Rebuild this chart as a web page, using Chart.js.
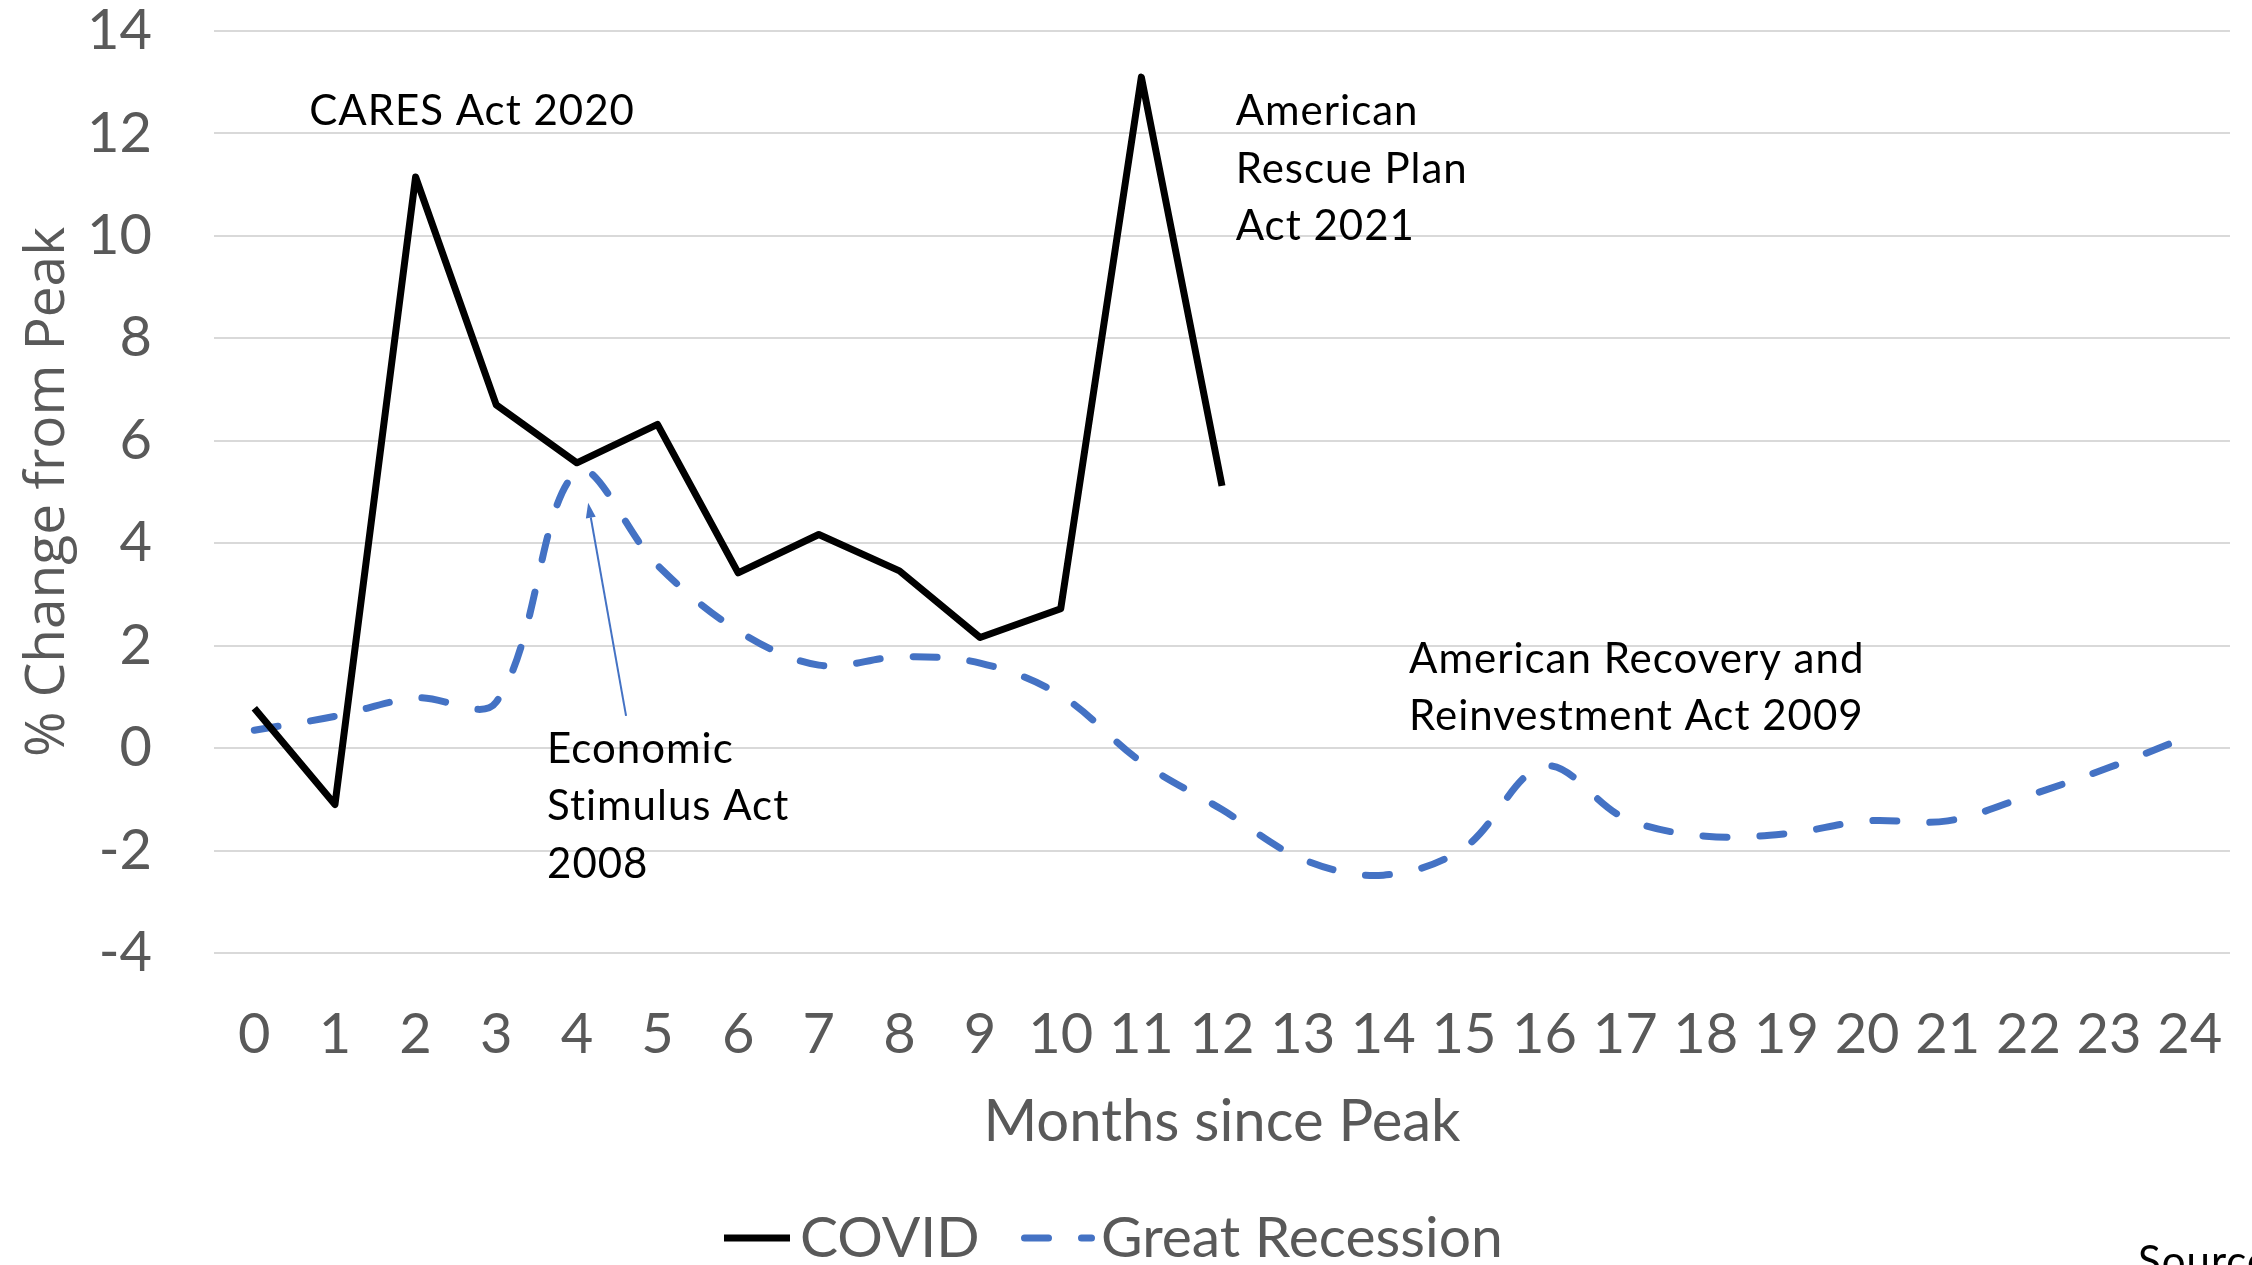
<!DOCTYPE html>
<html>
<head>
<meta charset="utf-8">
<title>Months since Peak</title>
<script src="https://cdn.jsdelivr.net/npm/chart.js@4.4.1/dist/chart.umd.min.js"></script>
<style>
  html, body { margin: 0; padding: 0; background: #fff; }
  canvas { display: block; }
</style>
</head>
<body>
<canvas id="chart" width="2252" height="1265"></canvas>
<script>
// months since the pre-recession peak
const months = ["0", "1", "2", "3", "4", "5", "6", "7", "8", "9", "10", "11", "12",
  "13", "14", "15", "16", "17", "18", "19", "20", "21", "22", "23", "24"];
// % change from peak
const covid = [0.78, -1.1, 11.15, 6.7, 5.57, 6.32, 3.42, 4.17, 3.46, 2.16, 2.72, 13.1, 5.12];
const greatRecession = [0.35, 0.62, 0.98, 0.9, 5.4, 3.57, 2.29, 1.62, 1.78, 1.66, 1.03, -0.27,
  -1.2, -2.17, -2.48, -1.95, -0.35, -1.37, -1.72, -1.67, -1.42, -1.42, -0.93, -0.38, 0.24];
const yMin = -4, yMax = 14, yStep = 2;

const GREY = "#595959";
const BLUE = "#4472C4";
const DASH = [24, 33];

// callouts, placed in axis units (category index, value)
const notes = [
  { text: ["CARES Act 2020"], at: [0.68, 12.16] },
  { text: ["American", "Rescue Plan", "Act 2021"], at: [12.17, 12.16] },
  { text: ["Economic", "Stimulus Act", "2008"], at: [3.63, -0.29] },
  { text: ["American Recovery and", "Reinvestment Act 2009"], at: [14.32, 1.47] }
];
const arrow = { from: [4.61, 0.63], to: [4.14, 4.79] };

const calloutPlugin = {
  id: "callouts",
  afterDatasetsDraw(chart) {
    const { ctx, scales: { x, y } } = chart;
    ctx.save();
    ctx.font = "42px Lato";
    ctx.letterSpacing = "1px";
    ctx.fillStyle = "#000";
    ctx.textAlign = "left";
    ctx.textBaseline = "alphabetic";
    notes.forEach((n) => {
      const px = x.getPixelForValue(n.at[0]);
      const py = y.getPixelForValue(n.at[1]);
      n.text.forEach((t, k) => ctx.fillText(t, px, py + k * 57.5));
    });

    // thin arrow towards the 2008 stimulus bump
    const x0 = x.getPixelForValue(arrow.from[0]), y0 = y.getPixelForValue(arrow.from[1]);
    const x1 = x.getPixelForValue(arrow.to[0]), y1 = y.getPixelForValue(arrow.to[1]);
    const ang = Math.atan2(y1 - y0, x1 - x0);
    const head = 15, half = 5;
    ctx.strokeStyle = BLUE;
    ctx.fillStyle = BLUE;
    ctx.lineWidth = 2;
    ctx.beginPath();
    ctx.moveTo(x0, y0);
    ctx.lineTo(x1 - Math.cos(ang) * head, y1 - Math.sin(ang) * head);
    ctx.stroke();
    ctx.beginPath();
    ctx.moveTo(x1, y1);
    ctx.lineTo(x1 - Math.cos(ang) * head - Math.sin(ang) * half, y1 - Math.sin(ang) * head + Math.cos(ang) * half);
    ctx.lineTo(x1 - Math.cos(ang) * head + Math.sin(ang) * half, y1 - Math.sin(ang) * head - Math.cos(ang) * half);
    ctx.closePath();
    ctx.fill();

    ctx.fillStyle = "#000";
    ctx.fillText("Source:", 2138, 1276);
    ctx.restore();
  }
};

// legend row under the axis title
const legendPlugin = {
  id: "bottomLegend",
  afterDraw(chart) {
    const ctx = chart.ctx;
    const ds = chart.data.datasets;
    const items = [
      { ds: ds[0], x0: 724, x1: 790, tx: 800 },
      { ds: ds[1], x0: 1024.5, x1: 1091.5, tx: 1101 }
    ];
    const cy = 1238;
    ctx.save();
    items.forEach((it) => {
      ctx.strokeStyle = it.ds.borderColor;
      ctx.lineWidth = it.ds.borderWidth;
      ctx.lineCap = it.ds.borderCapStyle || "butt";
      ctx.setLineDash(it.ds.borderDash || []);
      ctx.beginPath();
      ctx.moveTo(it.x0, cy);
      ctx.lineTo(it.x1, cy);
      ctx.stroke();
      ctx.setLineDash([]);
      ctx.font = "57px Lato";
      ctx.fillStyle = GREY;
      ctx.textBaseline = "alphabetic";
      ctx.fillText(it.ds.label, it.tx, 1257);
    });
    ctx.restore();
  }
};

new Chart(document.getElementById("chart"), {
  type: "line",
  data: {
    labels: months,
    datasets: [
      {
        label: "COVID",
        data: covid,
        borderColor: "#000",
        borderWidth: 7,
        borderCapStyle: "butt",
        borderJoinStyle: "round",
        pointRadius: 0,
        tension: 0,
        order: 0
      },
      {
        label: "Great Recession",
        data: greatRecession,
        borderColor: BLUE,
        borderWidth: 7,
        borderDash: DASH,
        borderCapStyle: "round",
        borderJoinStyle: "round",
        pointRadius: 0,
        tension: 0.35,
        order: 1
      }
    ]
  },
  options: {
    responsive: false,
    devicePixelRatio: 1,
    animation: false,
    layout: { padding: { top: 31, right: 22, left: 0, bottom: 0 } },
    plugins: {
      legend: { display: false },
      tooltip: { enabled: false }
    },
    scales: {
      x: {
        offset: true,
        grid: { display: false, drawTicks: false },
        border: { display: false },
        ticks: {
          color: GREY,
          font: { family: "Lato", size: 56, lineHeight: 1 },
          padding: 54,
          maxRotation: 0,
          autoSkip: false
        },
        title: {
          display: true,
          text: "Months since Peak",
          color: GREY,
          font: { family: "Lato", size: 58, lineHeight: 1.2 },
          padding: { top: 0, bottom: 108 }
        },
        afterFit(s) {
          s.height = 312;
          s.paddingLeft = 0;
          s.paddingRight = 0;
        }
      },
      y: {
        min: yMin,
        max: yMax,
        grid: { color: "#d9d9d9", lineWidth: 2, drawTicks: false },
        border: { display: false },
        ticks: {
          stepSize: yStep,
          color: GREY,
          font: { family: "Lato", size: 56, lineHeight: 1 },
          padding: 62
        },
        title: {
          display: true,
          text: "% Change from Peak",
          color: GREY,
          font: { family: "Open Sans", size: 55, lineHeight: 1.2 },
          padding: { top: 15, bottom: 0 }
        },
        afterFit(s) {
          s.width = 214;
          s.paddingTop = 0;
          s.paddingBottom = 0;
        }
      }
    }
  },
  plugins: [calloutPlugin, legendPlugin]
});
</script>
</body>
</html>
